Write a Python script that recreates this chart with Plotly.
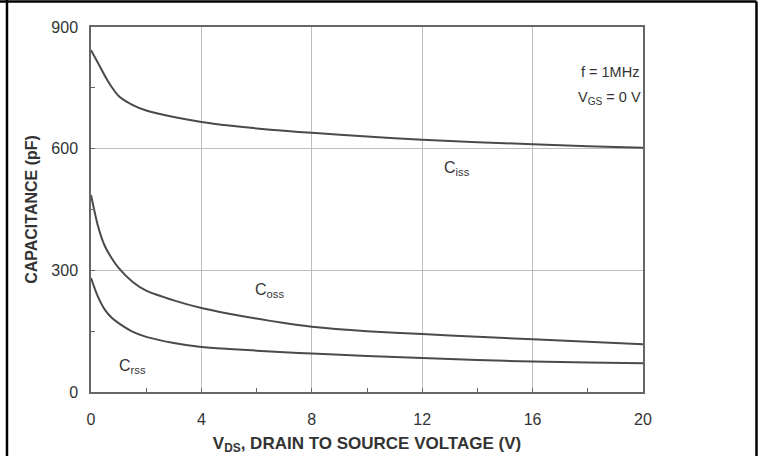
import plotly.graph_objects as go

# Drain-source voltage (V) sample points
vds = [0, 0.25, 0.5, 0.75, 1, 1.5, 2, 3, 4, 5, 6, 7, 8, 10, 12, 14, 16, 18, 20]

# Capacitance curves (pF)
ciss = [843, 812, 780, 752, 730, 708, 694, 678, 666, 657, 650, 644, 639, 630, 622, 616, 611, 606, 602]
coss = [486, 410, 360, 330, 306, 272, 250, 226, 207, 193, 181, 170, 161, 150, 143, 136, 130, 124, 118]
crss = [281, 235, 203, 183, 170, 149, 136, 121, 111, 106, 102, 98, 95, 89, 84, 79, 75, 73, 71]

x_ticks = [0, 4, 8, 12, 16, 20]
y_ticks = [0, 300, 600, 900]

FONT = "Liberation Sans, Arial, sans-serif"
INK = "#333333"
CURVE = "#4a4a4a"

fig = go.Figure()
for ys in (ciss, coss, crss):
    fig.add_trace(go.Scatter(
        x=vds, y=ys, mode="lines",
        line=dict(color=CURVE, width=2, shape="spline", smoothing=0.6),
        showlegend=False, hoverinfo="skip",
    ))

# curve names
for x, y, t in [(13.25, 552, "C<sub>iss</sub>"),
                (6.45, 251, "C<sub>oss</sub>"),
                (1.5, 62, "C<sub>rss</sub>")]:
    fig.add_annotation(x=x, y=y, text=t, showarrow=False,
                       font=dict(family=FONT, size=16, color=INK))

# test conditions
for y, t in [(789, "f = 1MHz"), (725, "V<sub>GS</sub> = 0 V")]:
    fig.add_annotation(x=18.8, y=y, text=t, showarrow=False,
                       font=dict(family=FONT, size=14.5, color=INK))

# outer frame of the figure
frame = dict(type="line", xref="paper", yref="paper",
             line=dict(color="black", width=2.5))
fig.add_shape(x0=-0.165, x1=1.2056, y0=1.0699, y1=1.0699, **frame)
fig.add_shape(x0=-0.1522, x1=-0.1522, y0=1.08, y1=-0.18, **frame)
fig.add_shape(x0=1.2056, x1=1.2056, y0=1.0699, y1=-0.18, **frame)

axis_common = dict(
    showline=True, linecolor="#666666", linewidth=1.5, mirror=True,
    showgrid=True, gridcolor="#bdbdbd", gridwidth=1,
    ticks="inside", ticklen=4, tickcolor="#666666",
    tickfont=dict(family=FONT, size=16, color=INK),
    zeroline=False, automargin=False,
)

fig.update_xaxes(
    range=[0, 20], tickvals=x_ticks, ticklabelstandoff=12,
    minor=dict(dtick=2, ticks="inside", ticklen=4, tickcolor="#666666", showgrid=False),
    title=dict(text="<b>V<sub>DS</sub>, DRAIN TO SOURCE VOLTAGE (V)</b>",
               font=dict(family=FONT, size=17, color=INK), standoff=10),
    **axis_common,
)
fig.update_yaxes(
    range=[0, 900], tickvals=y_ticks, ticklabelstandoff=8,
    minor=dict(dtick=150, ticks="inside", ticklen=4, tickcolor="#666666", showgrid=False),
    title=dict(text="<b>CAPACITANCE (pF)</b>",
               font=dict(family=FONT, size=16, color=INK), standoff=10),
    **axis_common,
)

fig.update_layout(
    width=763, height=456,
    margin=dict(l=91, r=120, t=27, b=64),
    plot_bgcolor="white", paper_bgcolor="white",
)

fig.write_html("out.html")
